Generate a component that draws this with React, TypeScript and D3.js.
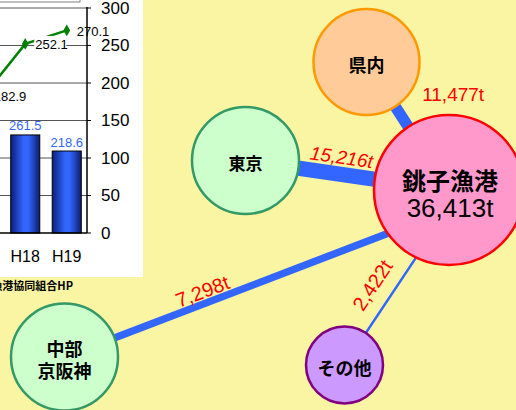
import React from 'react';
import * as d3 from 'd3';

// ---- Left chart data ----
const categories = ['H17', 'H18', 'H19'];
const barValues: (number | null)[] = [null, 261.5, 218.6];
const lineValues = [182.9, 252.1, 270.1];
const rightTicks = [0, 50, 100, 150, 200, 250, 300];
const sourceText = '資料：銚子漁港協同組合HP';

// ---- Flow diagram data ----
const hubLabel = ['銚子漁港', '36,413t'];
const destNames = [['県内'], ['東京'], ['中部', '京阪神'], ['その他']];
const flowValues = [11477, 15216, 7298, 2422];

// ---- Layout / styles ----
const W = 516, H = 410;
const hub = { x: 449, y: 190, r: 75, fill: '#FF99CC', stroke: '#FF0000' };
const destLayout = [
  { x: 366.5, y: 62, r: 53, fill: '#FFCC99', stroke: '#FF9900', aimDx: 0, aimDy: 0, fs: 18 },
  { x: 245.5, y: 160.5, r: 53.5, fill: '#CCFFCC', stroke: '#339966', aimDx: 0, aimDy: 0, fs: 17 },
  { x: 64.5, y: 357, r: 53.5, fill: '#CCFFCC', stroke: '#339966', aimDx: 0, aimDy: 20, fs: 18 },
  { x: 344.5, y: 365, r: 38.5, fill: '#CC99FF', stroke: '#800080', aimDx: 12, aimDy: 0, fs: 18 },
];
// t: fraction along link; off: perpendicular offset (positive = above/left of link); dx,dy for unrotated
const labelLayout = [
  { t: 0.25, off: 0, dx: 66, dy: 0, rotate: false, italic: false, fs: 19 },
  { t: 0.46, off: 17, dx: 0, dy: 0, rotate: true, italic: true, fs: 19 },
  { t: 0.37, off: 12, dx: 0, dy: 0, rotate: true, italic: false, fs: 20 },
  { t: 0.39, off: 21, dx: 0, dy: 0, rotate: true, italic: false, fs: 20 },
];

const latin = '"Liberation Sans", Arial, sans-serif';
const cjk = '"Noto Sans CJK JP", "Liberation Sans", sans-serif';

export default function App() {
  // left chart scales
  const x = d3.scaleBand<string>().domain(categories).range([-37, 87.5]).paddingInner(0.3).paddingOuter(0.15);
  const yBar = d3.scaleLinear().domain([0, 600]).range([233, 8]);
  const yLine = d3.scaleLinear().domain([0, 300]).range([233, 8]);
  const cx = (c: string) => (x(c) as number) + x.bandwidth() / 2;
  const line = d3.line<number>().x((_, i) => cx(categories[i])).y(d => yLine(d));
  const widthScale = d3.scaleLinear().domain([0, 1000]).range([0, 1]);
  const fmt = d3.format('.1f');

  return (
    <svg width={W} height={H} style={{ position: 'absolute', left: 0, top: 0 }} xmlns="http://www.w3.org/2000/svg">
      <defs>
        <linearGradient id="barGrad" x1="0" x2="1" y1="0" y2="0">
          <stop offset="0" stopColor="#0a1f7a" />
          <stop offset="0.45" stopColor="#3366ff" />
          <stop offset="0.6" stopColor="#3366ff" />
          <stop offset="1" stopColor="#0c1d6e" />
        </linearGradient>
        <clipPath id="plotClip"><rect x={0} y={0} width={143} height={277} /></clipPath>
      </defs>
      <rect x={0} y={0} width={W} height={H} fill="#F9F5A2" />

      {/* Left panel */}
      <rect x={0} y={0} width={143} height={277} fill="#FFFFFF" />
      <g clipPath="url(#plotClip)">
        <rect x={-20} y={-12} width={100} height={14} fill="none" stroke="#808080" strokeWidth={1} />
        {rightTicks.filter(t => t > 0).map(t => (
          <line key={t} x1={0} x2={87} y1={yLine(t)} y2={yLine(t)} stroke="#555" strokeWidth={1} />
        ))}
        {categories.map((c, i) => barValues[i] == null ? null : (
          <rect key={c} x={x(c)} y={yBar(barValues[i] as number)} width={x.bandwidth()}
            height={233 - yBar(barValues[i] as number)} fill="url(#barGrad)" stroke="#000" strokeWidth={1} />
        ))}
        {categories.map((c, i) => barValues[i] == null ? null : (
          <text key={c} x={cx(c)} y={yBar(barValues[i] as number) - 9} textAnchor="middle"
            dominantBaseline="central" fontFamily={latin} fontSize={13} fill="#3366FF">{fmt(barValues[i] as number)}</text>
        ))}
        <path d={line(lineValues) as string} fill="none" stroke="#008000" strokeWidth={2.5} />
        {lineValues.map((v, i) => (
          <path key={i} d={d3.symbol(d3.symbolDiamond, 40)() as string}
            transform={`translate(${cx(categories[i])},${yLine(v)})`} fill="#008000" />
        ))}
        {lineValues.map((v, i) => (
          <g key={i}>
            <rect x={cx(categories[i]) + 9} y={yLine(v) - 8} width={32} height={16} fill="#fff" />
            <text x={cx(categories[i]) + 10} y={yLine(v) + 1} dominantBaseline="central"
              fontFamily={latin} fontSize={13} fill="#000">{fmt(v)}</text>
          </g>
        ))}
        <line x1={0} x2={87} y1={233} y2={233} stroke="#000" strokeWidth={1.5} />
        <line x1={87} x2={87} y1={7} y2={233} stroke="#000" strokeWidth={1.5} />
        {rightTicks.map(t => (
          <line key={t} x1={87} x2={91} y1={yLine(t)} y2={yLine(t)} stroke="#000" strokeWidth={1} />
        ))}
        {rightTicks.map(t => (
          <text key={t} x={101} y={yLine(t)} dominantBaseline="central" fontFamily={latin}
            fontSize={17} fill="#000">{t}</text>
        ))}
        {categories.filter(c => cx(c) > 0).map(c => (
          <text key={c} x={cx(c)} y={256} textAnchor="middle" dominantBaseline="central"
            fontFamily={latin} fontSize={16} fill="#000">{c}</text>
        ))}
      </g>
      <text x={73} y={285} textAnchor="end" dominantBaseline="central" fontFamily={cjk}
        fontWeight="bold" fontSize={11} fill="#000">{sourceText}</text>

      {/* Flow links */}
      {destLayout.map((d, i) => (
        <line key={i} x1={d.x} y1={d.y} x2={hub.x + d.aimDx} y2={hub.y + d.aimDy}
          stroke="#3366FF" strokeWidth={widthScale(flowValues[i])} />
      ))}
      {/* Nodes */}
      {destLayout.map((d, i) => (
        <g key={i}>
          <circle cx={d.x} cy={d.y} r={d.r} fill={d.fill} stroke={d.stroke} strokeWidth={2.5} />
          {destNames[i].map((s, j) => (
            <text key={j} x={d.x} y={d.y + (j - (destNames[i].length - 1) / 2) * 22 + 2}
              textAnchor="middle" dominantBaseline="central" fontFamily={cjk} fontWeight="bold"
              fontSize={d.fs} fill="#000">{s}</text>
          ))}
        </g>
      ))}
      <circle cx={hub.x} cy={hub.y} r={hub.r} fill={hub.fill} stroke={hub.stroke} strokeWidth={2.5} />
      <text x={hub.x + 1} y={179} textAnchor="middle" dominantBaseline="central" fontFamily={cjk}
        fontWeight="bold" fontSize={24} fill="#000">{hubLabel[0]}</text>
      <text x={hub.x + 1} y={208} textAnchor="middle" dominantBaseline="central" fontFamily={latin}
        fontSize={26} fill="#000">{hubLabel[1]}</text>

      {/* Flow labels */}
      {destLayout.map((d, i) => {
        const L = labelLayout[i];
        const tx = hub.x + d.aimDx, ty = hub.y + d.aimDy;
        const px = d.x + (tx - d.x) * L.t, py = d.y + (ty - d.y) * L.t;
        const ang = Math.atan2(ty - d.y, tx - d.x);
        let deg = 0, ox = L.dx, oy = L.dy;
        if (L.rotate) {
          deg = (ang * 180) / Math.PI;
          ox = Math.sin(ang) * L.off;
          oy = -Math.cos(ang) * L.off;
        }
        return (
          <text key={i} transform={`translate(${px + ox},${py + oy}) rotate(${deg})`}
            textAnchor="middle" dominantBaseline="central" fontFamily={latin} fontSize={L.fs}
            fontStyle={L.italic ? 'italic' : 'normal'} fill="#FF0000">{d3.format(',')(flowValues[i]) + 't'}</text>
        );
      })}
    </svg>
  );
}
